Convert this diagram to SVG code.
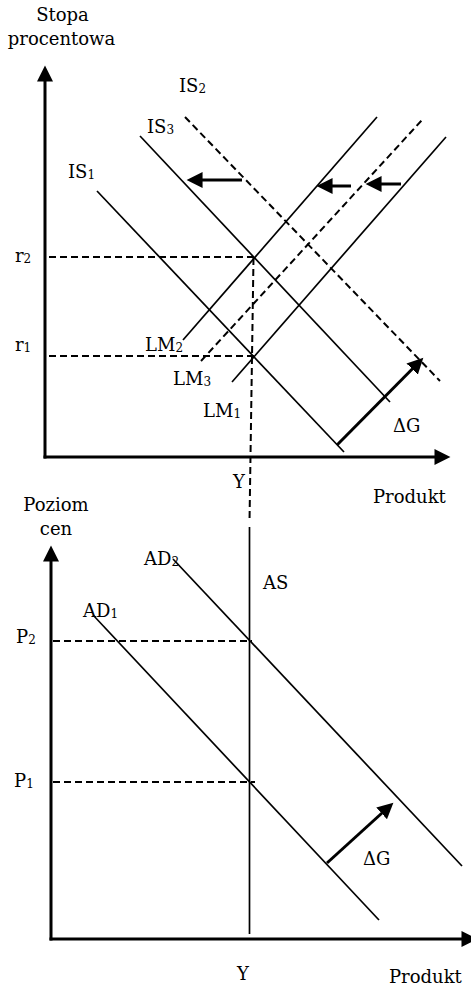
<svg xmlns="http://www.w3.org/2000/svg" width="471" height="988" viewBox="0 0 471 988">
<style>
text{font-family:"DejaVu Serif","Liberation Serif",serif;font-size:18px;fill:#000}
.sub{font-size:12px}
.axis{stroke:#000;stroke-width:3;fill:none}
.curve{stroke:#000;stroke-width:1.7;fill:none}
.dash{stroke:#000;stroke-width:2;fill:none;stroke-dasharray:7 4}
.shift{stroke:#000;stroke-width:3;fill:none}
</style>
<defs>
<marker id="ah" markerUnits="userSpaceOnUse" markerWidth="17" markerHeight="17" viewBox="0 -8 16 16" refX="0.5" refY="0" orient="auto">
<path d="M0,-7.5 L15,0 L0,7.5 z" fill="#000"/>
</marker>
</defs>
<g id="top-axes">
<line class="axis" x1="43.5" y1="457" x2="435" y2="457" marker-end="url(#ah)"/>
<line class="axis" x1="45" y1="458.5" x2="45" y2="81" marker-end="url(#ah)"/>
<text x="62.5" y="21" text-anchor="middle">Stopa</text>
<text x="61.5" y="45" text-anchor="middle">procentowa</text>
<text x="373" y="503">Produkt</text>
<text x="233" y="488">Y</text>
<text x="15" y="262">r<tspan class="sub" dy="1">2</tspan></text>
<text x="15" y="351">r<tspan class="sub" dy="1">1</tspan></text>
</g>
<g id="IS1">
<line class="curve" x1="97" y1="191" x2="344" y2="452"/>
<text x="68" y="178">IS<tspan class="sub" dy="1">1</tspan></text>
</g>
<g id="IS2">
<line class="dash" x1="185" y1="117" x2="440" y2="381"/>
<text x="179" y="92">IS<tspan class="sub" dy="1">2</tspan></text>
</g>
<g id="IS3">
<line class="curve" x1="140" y1="136" x2="390" y2="402"/>
<text x="147" y="133">IS<tspan class="sub" dy="1">3</tspan></text>
</g>
<g id="LM1">
<line class="curve" x1="232" y1="382" x2="446" y2="137"/>
<text x="203" y="417">LM<tspan class="sub" dy="1">1</tspan></text>
</g>
<g id="LM2">
<line class="curve" x1="183" y1="340" x2="377" y2="117"/>
<text x="145" y="351">LM<tspan class="sub" dy="1">2</tspan></text>
</g>
<g id="LM3">
<line class="dash" x1="201" y1="361" x2="422" y2="120"/>
<text x="173" y="385">LM<tspan class="sub" dy="1">3</tspan></text>
</g>
<g id="top-deltaG">
<text x="393" y="432">ΔG</text>
</g>
<g id="bottom-axes">
<line class="axis" x1="51" y1="940.5" x2="51" y2="561" marker-end="url(#ah)"/>
<line class="axis" x1="49.5" y1="939" x2="462" y2="939" marker-end="url(#ah)"/>
<text x="56" y="511" text-anchor="middle">Poziom</text>
<text x="56" y="535" text-anchor="middle">cen</text>
<text x="389" y="983">Produkt</text>
<text x="237" y="980">Y</text>
<text x="16" y="643">P<tspan class="sub" dy="1">2</tspan></text>
<text x="14" y="787">P<tspan class="sub" dy="1">1</tspan></text>
</g>
<g id="AS">
<line class="curve" x1="249.5" y1="527" x2="249.5" y2="934"/>
<text x="263" y="589">AS</text>
</g>
<g id="AD1">
<line class="curve" x1="93" y1="615" x2="379" y2="920"/>
<text x="83" y="617">AD<tspan class="sub" dy="1">1</tspan></text>
</g>
<g id="AD2">
<line class="curve" x1="173" y1="559" x2="462" y2="866"/>
<text x="144" y="565">AD<tspan class="sub" dy="1">2</tspan></text>
</g>
<g id="bottom-deltaG">
<text x="363" y="865">ΔG</text>
</g>
<g id="connectors">
<line class="dash" x1="49" y1="257" x2="254" y2="257"/>
<line class="dash" x1="49" y1="356" x2="254" y2="356"/>
<line class="dash" x1="253.5" y1="258" x2="249.5" y2="522"/>
<line class="dash" x1="53" y1="641" x2="252" y2="641"/>
<line class="dash" x1="53" y1="782" x2="255" y2="782"/>
<line class="shift" x1="242" y1="180" x2="202" y2="180" marker-end="url(#ah)"/>
<line class="shift" x1="351" y1="186" x2="332" y2="186" marker-end="url(#ah)"/>
<line class="shift" x1="401" y1="184" x2="381" y2="184" marker-end="url(#ah)"/>
<line class="shift" x1="337" y1="445" x2="412.5" y2="368.7" marker-end="url(#ah)"/>
<line class="shift" x1="327" y1="863" x2="382" y2="813" marker-end="url(#ah)"/>
</g>
</svg>
